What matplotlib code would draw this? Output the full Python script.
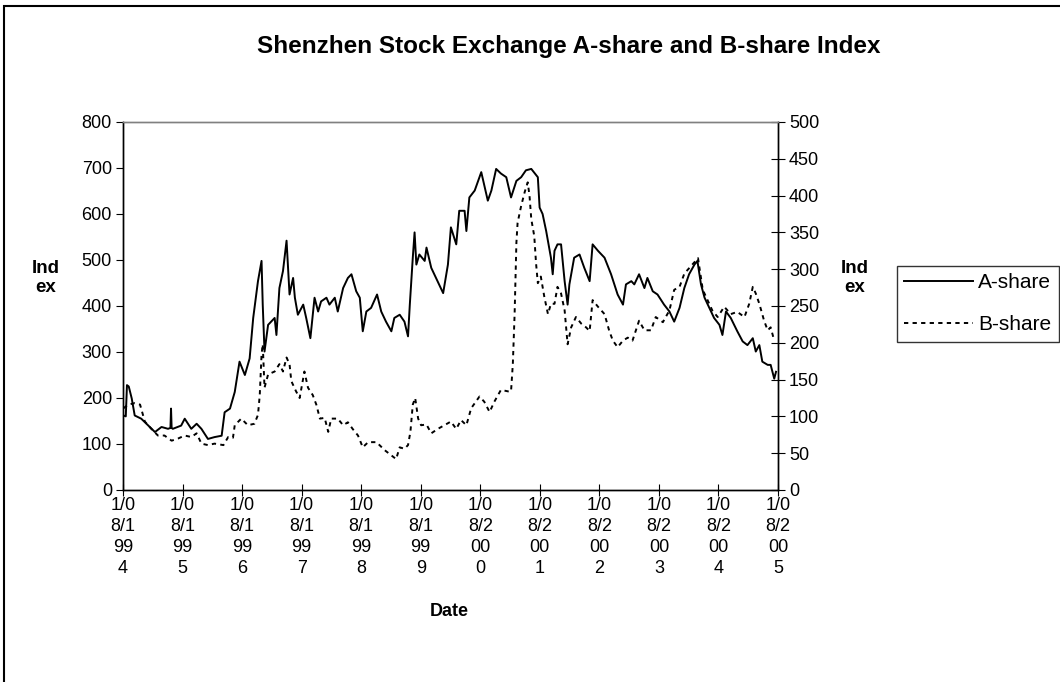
import matplotlib
matplotlib.use("Agg")
import matplotlib.pyplot as plt
from matplotlib.patches import Rectangle

plt.rcParams['font.family'] = ['Liberation Sans', 'DejaVu Sans']

# A-share index (left axis), decimal years
a_year = [1994.59, 1994.63, 1994.65, 1994.68, 1994.73, 1994.78, 1994.89, 1995.01, 1995.12,
          1995.23, 1995.34, 1995.38, 1995.39, 1995.40, 1995.42, 1995.56, 1995.62, 1995.73,
          1995.82, 1995.90, 1996.01, 1996.12, 1996.24, 1996.29, 1996.38, 1996.46, 1996.54,
          1996.63, 1996.71, 1996.77, 1996.85, 1996.91, 1996.93, 1996.96, 1997.02, 1997.13,
          1997.16, 1997.21, 1997.27, 1997.33, 1997.38, 1997.44, 1997.47, 1997.52, 1997.61,
          1997.66, 1997.73, 1997.80, 1997.86, 1997.91, 1998.00, 1998.05, 1998.14, 1998.19,
          1998.28, 1998.36, 1998.42, 1998.50, 1998.56, 1998.61, 1998.67, 1998.75, 1998.85,
          1998.92, 1999.00, 1999.09, 1999.14, 1999.23, 1999.31, 1999.37, 1999.40, 1999.45,
          1999.48, 1999.51, 1999.56, 1999.65, 1999.68, 1999.76, 1999.84, 1999.96, 2000.04,
          2000.09, 2000.18, 2000.23, 2000.32, 2000.35, 2000.40, 2000.49, 2000.60, 2000.71,
          2000.77, 2000.85, 2000.93, 2001.02, 2001.10, 2001.19, 2001.27, 2001.35, 2001.44,
          2001.55, 2001.58, 2001.63, 2001.69, 2001.77, 2001.80, 2001.83, 2001.88, 2001.94,
          2002.00, 2002.05, 2002.08, 2002.16, 2002.25, 2002.33, 2002.42, 2002.47, 2002.56,
          2002.67, 2002.78, 2002.89, 2002.98, 2003.03, 2003.12, 2003.17, 2003.25, 2003.34,
          2003.39, 2003.48, 2003.56, 2003.67, 2003.76, 2003.84, 2003.93, 2004.01, 2004.09,
          2004.18, 2004.23, 2004.29, 2004.35, 2004.43, 2004.51, 2004.60, 2004.65, 2004.71,
          2004.79, 2004.90, 2004.99, 2005.07, 2005.16, 2005.21, 2005.27, 2005.32, 2005.41,
          2005.46, 2005.52, 2005.55]
a_val = [162, 160, 228, 225, 199, 162, 155, 140, 126,
         137, 133, 135, 177, 135, 133, 140, 155, 133,
         144, 133, 111, 115, 118, 169, 177, 213, 279,
         250, 286, 374, 454, 498, 403, 301, 359, 374,
         337, 439, 476, 542, 425, 461, 418, 381, 403,
         374, 330, 418, 388, 410, 418, 403, 418, 388,
         439, 461, 469, 432, 418, 345, 388, 396, 425,
         388, 366, 345, 374, 381, 366, 334, 403, 505,
         560, 490, 512, 498, 527, 483, 461, 428, 490,
         571, 534, 607, 607, 563, 636, 651, 691, 629,
         651, 698, 688, 680, 636, 672, 680, 695, 698,
         680, 614, 600, 563, 505, 469, 520, 534, 534,
         454, 403, 447, 505, 512, 483, 454, 534, 520,
         505, 469, 425, 403, 447, 454, 447, 469, 439,
         461, 432, 425, 403, 388, 366, 396, 439, 469,
         490, 498, 447, 418, 396, 374, 359, 337, 388,
         374, 345, 323, 315, 330, 301, 315, 279, 272,
         272, 242, 257]

# B-share index (right axis)
b_year = [1994.59, 1994.67, 1994.78, 1994.87, 1994.95, 1995.06, 1995.17, 1995.28, 1995.40,
          1995.51, 1995.62, 1995.73, 1995.82, 1995.90, 1996.01, 1996.12, 1996.27, 1996.35,
          1996.43, 1996.46, 1996.57, 1996.68, 1996.79, 1996.85, 1996.88, 1996.91, 1996.93,
          1996.96, 1997.02, 1997.13, 1997.21, 1997.27, 1997.33, 1997.38, 1997.41, 1997.49,
          1997.55, 1997.63, 1997.69, 1997.77, 1997.83, 1997.89, 1997.97, 1998.03, 1998.08,
          1998.19, 1998.28, 1998.36, 1998.44, 1998.53, 1998.61, 1998.70, 1998.84, 1998.98,
          1999.09, 1999.17, 1999.23, 1999.31, 1999.37, 1999.41, 1999.45, 1999.49, 1999.54,
          1999.59, 1999.68, 1999.76, 1999.87, 1999.98, 2000.09, 2000.18, 2000.26, 2000.35,
          2000.43, 2000.57, 2000.65, 2000.74, 2000.82, 2000.93, 2001.05, 2001.10, 2001.13,
          2001.16, 2001.19, 2001.21, 2001.27, 2001.33, 2001.38, 2001.41, 2001.44, 2001.49,
          2001.52, 2001.55, 2001.60, 2001.66, 2001.72, 2001.77, 2001.83, 2001.88, 2001.94,
          2002.00, 2002.05, 2002.11, 2002.19, 2002.28, 2002.36, 2002.42, 2002.47, 2002.56,
          2002.67, 2002.75, 2002.81, 2002.89, 2002.98, 2003.06, 2003.14, 2003.25, 2003.34,
          2003.45, 2003.53, 2003.65, 2003.76, 2003.84, 2003.93, 2004.01, 2004.12, 2004.24,
          2004.32, 2004.40, 2004.48, 2004.57, 2004.68, 2004.79, 2004.90, 2005.02, 2005.10,
          2005.16, 2005.21, 2005.27, 2005.35, 2005.41, 2005.46, 2005.52]
b_val = [111, 116, 118, 116, 93, 83, 74, 74, 67,
         70, 74, 72, 77, 63, 61, 63, 61, 72,
         71, 88, 97, 88, 90, 102, 129, 184, 198,
         139, 157, 161, 171, 161, 180, 171, 148, 134,
         125, 161, 139, 129, 116, 97, 98, 79, 97,
         97, 88, 92, 83, 74, 58, 65, 65, 54,
         47, 42, 58, 56, 61, 79, 116, 125, 97,
         88, 89, 77, 83, 88, 93, 83, 95, 88,
         111, 127, 120, 106, 120, 136, 134, 134, 171,
         239, 336, 363, 386, 405, 418, 400, 368, 345,
         308, 281, 290, 262, 239, 253, 253, 276, 267,
         244, 198, 221, 235, 226, 221, 216, 258, 249,
         239, 216, 203, 194, 203, 207, 203, 230, 217,
         217, 235, 228, 244, 272, 276, 294, 304, 315,
         272, 258, 244, 235, 249, 239, 242, 235, 253,
         276, 267, 253, 230, 217, 221, 203]

tick_dates = ['1/08/1994', '1/08/1995', '1/08/1996', '1/08/1997', '1/08/1998', '1/08/1999',
              '1/08/2000', '1/08/2001', '1/08/2002', '1/08/2003', '1/08/2004', '1/08/2005']
start = 1994 + 7 / 12.0
tick_pos = [start + i for i in range(len(tick_dates))]
# wrapped the way the narrow category labels break
tick_text = ['\n'.join([d[0:3], d[3:6], d[6:8], d[8:]]) for d in tick_dates]

fig = plt.figure(figsize=(10.6, 6.82), dpi=100)
ax = fig.add_axes([123 / 1060, 1 - 490 / 682, 655 / 1060, 368 / 682])
ax2 = ax.twinx()

la, = ax.plot(a_year, a_val, color='black', lw=1.4, label='A-share')
lb, = ax2.plot(b_year, b_val, color='black', lw=1.4, ls=(0, (2.2, 2.2)), label='B-share')

ax.set_xlim(tick_pos[0], tick_pos[-1])
ax.set_ylim(0, 800)
ax2.set_ylim(0, 500)
ax.set_yticks(range(0, 801, 100))
ax2.set_yticks(range(0, 501, 50))
ax.set_xticks(tick_pos)
ax.set_xticklabels(tick_text, linespacing=1.3)

for a in (ax, ax2):
    for s in a.spines.values():
        s.set_color('black')
        s.set_linewidth(1.0)
    a.spines['top'].set_color('#808080')
ax.tick_params(axis='y', direction='out', length=5, labelsize=13, pad=3)
ax.tick_params(axis='x', direction='inout', length=8, labelsize=13, pad=1)
ax2.tick_params(axis='y', direction='inout', length=10, labelsize=13, pad=3)

fig.suptitle('Shenzhen Stock Exchange A-share and B-share Index', x=569 / 1060, y=1 - 35 / 682,
             fontsize=17.5, fontweight='bold')
fig.text(449 / 1060, 1 - 612 / 682, 'Date', ha='center', va='center', fontsize=13, fontweight='bold')
fig.text(46 / 1060, 1 - 278 / 682, 'Ind\nex', ha='center', va='center', fontsize=13.5,
         fontweight='bold', linespacing=1.2)
fig.text(855 / 1060, 1 - 278 / 682, 'Ind\nex', ha='center', va='center', fontsize=13.5,
         fontweight='bold', linespacing=1.2)

leg = fig.legend(handles=[la, lb], loc='upper left', bbox_to_anchor=(897 / 1060, 1 - 266 / 682),
                 fontsize=15, frameon=True, fancybox=False, handlelength=3.3, handletextpad=0.25,
                 borderpad=0.35, labelspacing=1.1, borderaxespad=0)
leg.get_frame().set_edgecolor('black')
leg.get_frame().set_linewidth(1.0)

fig.patches.append(Rectangle((4 / 1060, -0.05), 1.2, 1 - 6 / 682 + 0.05, transform=fig.transFigure,
                             fill=False, edgecolor='black', lw=1.5))

fig.savefig('out.png', dpi=100)
